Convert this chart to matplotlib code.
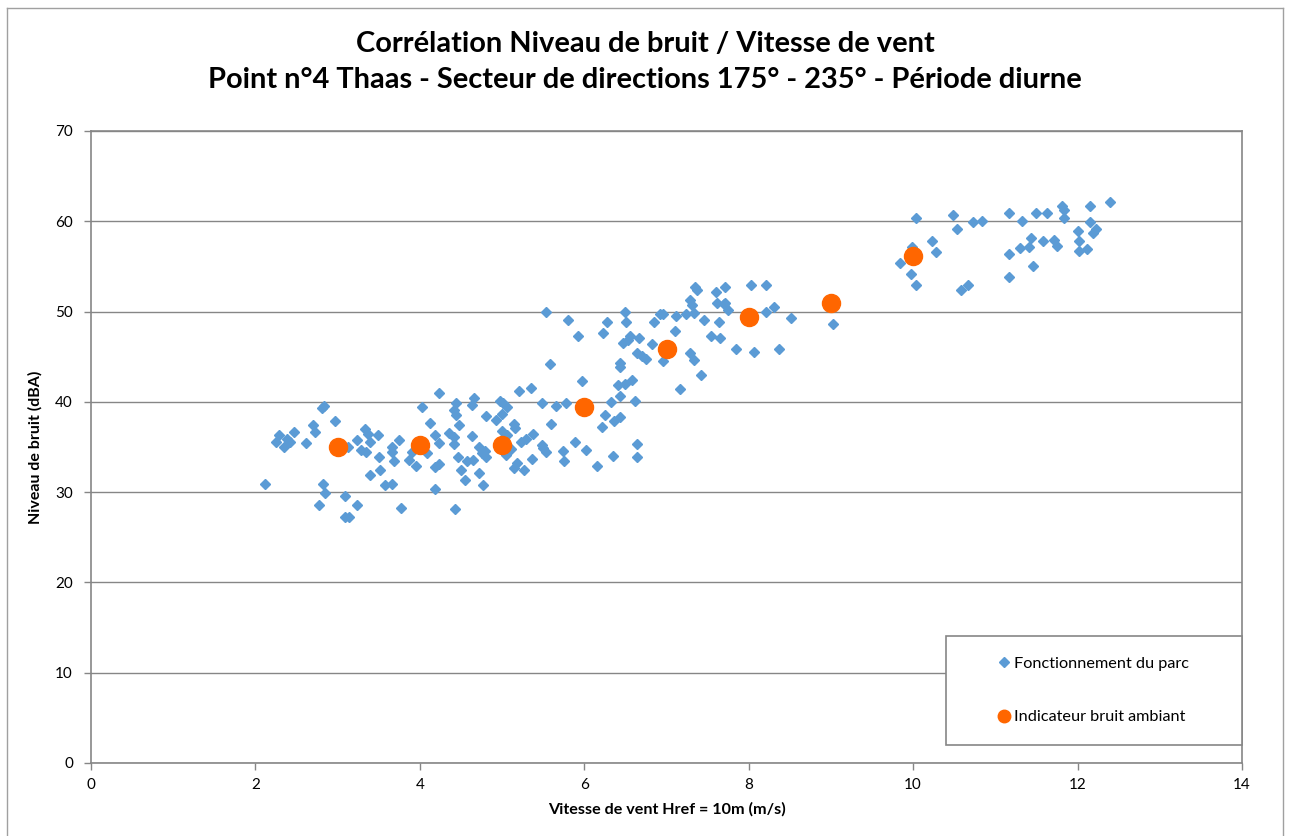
import matplotlib.pyplot as plt
from matplotlib.patches import Rectangle
from matplotlib.lines import Line2D

# Fonctionnement du parc (vitesse m/s, niveau dBA)
parc_vitesse = [
    4.23, 2.83, 2.81, 4.02, 2.97, 4.12, 2.70, 2.73, 2.47, 2.29, 2.38, 2.25, 2.42, 2.35, 2.61,
    3.33, 3.37, 3.49, 3.24, 3.39, 3.13, 3.29, 3.35, 3.50, 3.75, 3.66, 3.66, 3.68, 3.87, 3.95,
    3.90, 4.09, 4.19, 4.23, 4.18, 4.23, 4.36, 3.52, 3.39, 3.58, 3.66, 2.12, 2.82, 2.85, 2.77,
    3.09, 3.23, 3.09, 3.14, 3.77, 4.19,
    5.97, 5.21, 5.35, 6.50, 6.58, 6.41, 4.44, 4.66, 4.64, 4.97, 5.01, 5.06, 5.00, 4.81, 4.93,
    4.42, 4.44, 5.48, 5.66, 5.78, 6.32, 6.44, 6.25, 6.44, 6.36, 6.22, 5.60, 5.14, 5.16, 4.48,
    4.42, 4.41, 4.63, 5.00, 5.06, 5.38, 5.48, 5.53, 5.29, 5.23, 5.11, 4.72, 4.76, 4.81, 4.65,
    4.57, 4.46, 4.50, 4.72, 4.55, 4.77, 5.05, 5.18, 5.14, 5.27, 5.36, 5.74, 5.75, 5.89, 6.02,
    6.16, 6.35, 6.64, 6.64, 4.43, 4.79, 5.50,
    5.54, 5.80, 6.50, 6.28, 6.51, 6.23, 5.92, 6.47, 6.55, 6.53, 6.66, 6.64, 6.70, 6.75, 5.58,
    6.43, 6.44, 6.62, 7.37, 7.28, 7.31, 7.60, 7.61, 7.70, 6.92, 6.96, 7.12, 7.24, 7.33, 7.46,
    7.64, 6.85, 7.10, 7.54, 7.65, 6.82, 6.96, 7.29, 7.33, 7.42, 7.17,
    7.35, 7.71, 8.03, 8.21, 7.71, 7.75, 8.21, 8.31, 8.52, 7.85, 8.07, 8.37, 9.03,
    10.03, 10.49, 10.53, 10.73, 10.84, 11.16, 11.32, 11.50, 11.63, 11.81, 11.84, 11.83, 12.15,
    12.40, 12.15, 12.01, 12.23, 12.19, 12.02, 12.02, 12.12, 11.71, 11.75, 11.58, 11.43, 11.41,
    11.30, 11.16, 11.46, 11.16, 10.23, 10.28, 9.99, 9.84, 9.98, 10.04, 10.58, 10.67,
]
parc_bruit = [
    41.0, 39.5, 39.3, 39.4, 37.9, 37.7, 37.4, 36.7, 36.7, 36.3, 35.9, 35.5, 35.5, 35.0, 35.4,
    37.0, 36.4, 36.3, 35.8, 35.6, 35.0, 34.7, 34.5, 33.9, 35.8, 35.0, 34.4, 33.4, 33.6, 32.9,
    34.5, 34.3, 32.8, 33.1, 36.3, 35.4, 36.6, 32.4, 31.9, 30.8, 30.9, 30.9, 30.9, 29.9, 28.6,
    29.6, 28.6, 27.3, 27.3, 28.2, 30.3,
    42.3, 41.2, 41.5, 42.0, 42.4, 41.9, 39.9, 40.4, 39.7, 40.1, 39.9, 39.4, 38.7, 38.4, 38.0,
    39.1, 38.5, 39.9, 39.5, 39.9, 40.0, 40.6, 38.5, 38.3, 37.9, 37.2, 37.5, 37.6, 37.1, 37.4,
    36.1, 35.3, 36.2, 36.8, 36.3, 36.4, 35.2, 34.5, 35.9, 35.5, 34.8, 35.0, 34.3, 33.9, 33.6,
    33.4, 33.9, 32.5, 32.1, 31.3, 30.8, 34.1, 33.2, 32.7, 32.4, 33.7, 34.6, 33.5, 35.5, 34.7,
    32.9, 34.0, 35.3, 33.9, 28.1, 34.6, 34.9,
    49.9, 49.1, 50.0, 48.9, 48.8, 47.6, 47.3, 46.5, 47.3, 46.9, 47.1, 45.4, 45.1, 44.8, 44.2,
    44.3, 43.9, 40.1, 52.4, 51.3, 50.7, 52.2, 51.0, 50.8, 49.7, 49.7, 49.5, 49.7, 49.8, 49.1,
    48.8, 48.8, 47.9, 47.3, 47.1, 46.4, 44.5, 45.4, 44.6, 43.0, 41.4,
    52.7, 52.7, 52.9, 52.9, 51.0, 50.2, 50.0, 50.5, 49.3, 45.8, 45.5, 45.9, 48.6,
    60.4, 60.7, 59.2, 59.9, 60.0, 60.9, 60.0, 60.9, 60.9, 61.7, 61.3, 60.4, 61.7,
    62.1, 59.9, 58.9, 59.2, 58.7, 57.8, 56.7, 56.9, 57.9, 57.3, 57.8, 58.2, 57.2,
    57.0, 56.4, 55.0, 53.8, 57.8, 56.6, 57.2, 55.4, 54.2, 52.9, 52.4, 52.9,
]

# Indicateur bruit ambiant
indic_vitesse = [3, 4, 5, 6, 7, 8, 9, 10]
indic_bruit = [35.0, 35.2, 35.2, 39.4, 45.9, 49.4, 51.0, 56.2]

plt.rcParams['font.family'] = ['Lato', 'DejaVu Sans']

fig = plt.figure(figsize=(12.9, 8.36), dpi=100)
ax = fig.add_axes([91 / 1290, 73 / 836, 1151 / 1290, 632 / 836])

bleu = '#5B9BD5'
orange = '#FF6600'
gris = '#868686'

ax.plot(parc_vitesse, parc_bruit, linestyle='none', marker='D', markersize=5.2,
        color=bleu, zorder=3)
ax.plot(indic_vitesse, indic_bruit, linestyle='none', marker='o', markersize=13,
        color=orange, zorder=4)

ax.set_xlim(0, 14)
ax.set_ylim(0, 70)
ax.set_xticks(range(0, 15, 2))
ax.set_yticks(range(0, 71, 10))
ax.grid(axis='y', color=gris, linewidth=1)
ax.set_axisbelow(True)
for s in ax.spines.values():
    s.set_color(gris)
    s.set_linewidth(1.2)
ax.tick_params(axis='both', colors=gris, labelcolor='black', labelsize=11, length=5, width=1)
ax.tick_params(axis='x', pad=6)
ax.tick_params(axis='y', pad=8)

ax.set_xlabel('Vitesse de vent Href = 10m (m/s)', fontsize=11.6, fontweight='bold', labelpad=7)
ax.set_ylabel('Niveau de bruit (dBA)', fontsize=11.5, fontweight='bold', labelpad=9)

fig.text(0.5, 1 - 44 / 836, 'Corrélation Niveau de bruit / Vitesse de vent',
         ha='center', va='center', fontsize=20.9, fontweight='bold')
fig.text(0.5, 1 - 80 / 836, 'Point n°4 Thaas - Secteur de directions 175° - 235° - Période diurne',
         ha='center', va='center', fontsize=20.9, fontweight='bold')

# cadre de la légende
x0 = (946 - 91) / 1151
y0 = (763 - 745) / 632
w = 1 - x0
h = (745 - 636) / 632
ax.add_patch(Rectangle((x0, y0), w, h, transform=ax.transAxes, facecolor='white',
                       edgecolor=gris, linewidth=1.2, zorder=5, clip_on=False))
handles = [
    Line2D([], [], linestyle='none', marker='D', markersize=5.2, color=bleu),
    Line2D([], [], linestyle='none', marker='o', markersize=9, color=orange),
]
leg = ax.legend(handles, ['Fonctionnement du parc', 'Indicateur bruit ambiant'],
                loc='center', bbox_to_anchor=(x0 + w / 2, y0 + h / 2), frameon=False,
                fontsize=11.7, labelspacing=2.4, handlelength=0.6, handletextpad=0.3)
leg.set_zorder(6)

# bordure du graphique
for xs, ys in [((7, 7), (0, 828)), ((7, 1283), (828, 828)), ((1283, 1283), (0, 828))]:
    fig.add_artist(Line2D([v / 1290 for v in xs], [v / 836 for v in ys], color='#A0A0A0',
                          linewidth=1, transform=fig.transFigure))

fig.savefig('out.png', dpi=100)
